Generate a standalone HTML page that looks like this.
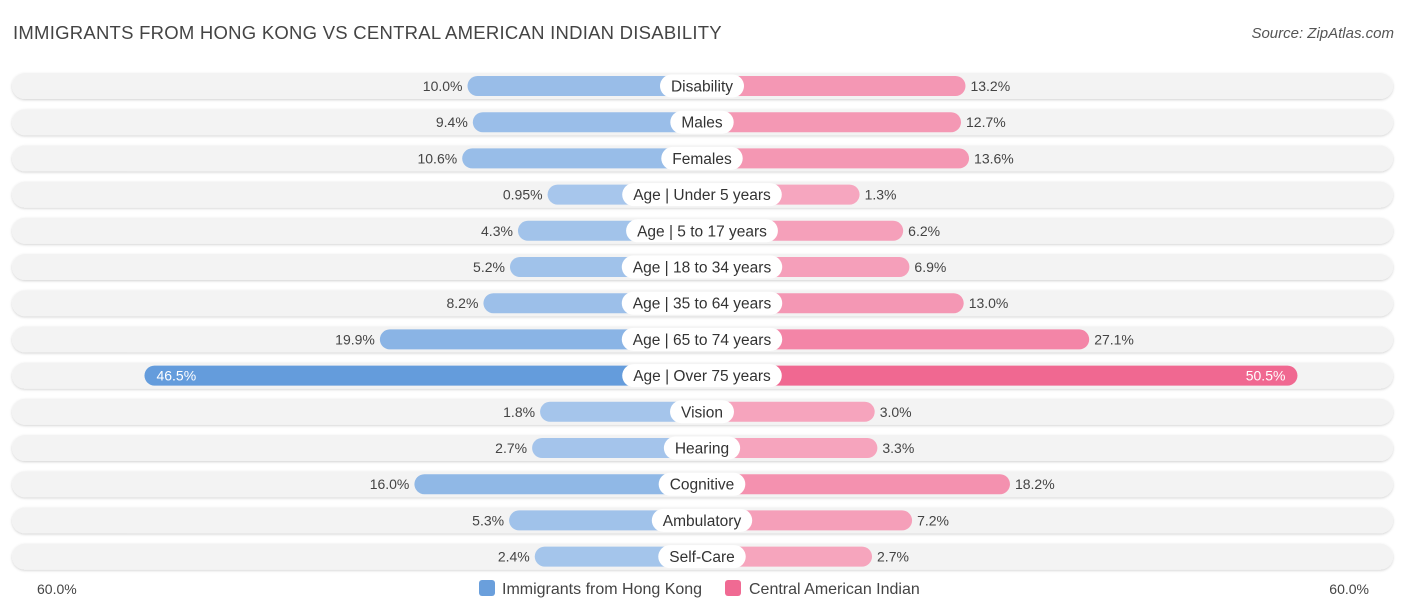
<!DOCTYPE html>
<html><head><meta charset="utf-8"><style>
body{margin:0;background:#fff;font-family:"Liberation Sans",sans-serif;}
#wrap{position:relative;width:1406px;height:612px;overflow:hidden;}
.title{position:absolute;left:13px;top:22px;font-size:18.5px;color:#444;letter-spacing:0.25px;}
.src{position:absolute;right:12px;top:25px;font-size:15px;color:#555;font-style:italic;}
</style></head><body>
<div id="wrap">
<div class="title">IMMIGRANTS FROM HONG KONG VS CENTRAL AMERICAN INDIAN DISABILITY</div>
<div class="src">Source: ZipAtlas.com</div>
<svg id="svg" width="1406" height="612" style="position:absolute;left:0;top:0"></svg>
</div>
<script>
const categories=["Disability","Males","Females","Age | Under 5 years","Age | 5 to 17 years","Age | 18 to 34 years","Age | 35 to 64 years","Age | 65 to 74 years","Age | Over 75 years","Vision","Hearing","Cognitive","Ambulatory","Self-Care"];
const hongKong=[10.0,9.4,10.6,0.95,4.3,5.2,8.2,19.9,46.5,1.8,2.7,16.0,5.3,2.4];
const centralAmerican=[13.2,12.7,13.6,1.3,6.2,6.9,13.0,27.1,50.5,3.0,3.3,18.2,7.2,2.7];
const hkLabels=["10.0%","9.4%","10.6%","0.95%","4.3%","5.2%","8.2%","19.9%","46.5%","1.8%","2.7%","16.0%","5.3%","2.4%"];
const caLabels=["13.2%","12.7%","13.6%","1.3%","6.2%","6.9%","13.0%","27.1%","50.5%","3.0%","3.3%","18.2%","7.2%","2.7%"];
const axisLabels=["60.0%","60.0%"];
const NS="http://www.w3.org/2000/svg";
const svg=document.getElementById('svg');
const cx=702,gap=146,kL=8.85,kR=8.9,y0=86,dy=36.2;
const xL=v=>cx-gap-v*kL, xR=v=>cx+gap+v*kR, yRow=i=>y0+i*dy;
function mk(t,a,p){const e=document.createElementNS(NS,t);for(const n in a)e.setAttribute(n,a[n]);(p||svg).appendChild(e);return e;}
function mix(a,b,t){return 'rgb('+a.map((c,i)=>Math.round(c+(b[i]-c)*t)).join(',')+')';}
const defs=mk('defs',{});
const f=mk('filter',{id:'sh',x:'-5%',y:'-50%',width:'110%',height:'200%'},defs);
mk('feDropShadow',{dx:0,dy:1,stdDeviation:1.2,'flood-color':'#000','flood-opacity':0.18},f);
categories.forEach((c,i)=>{
  const y=yRow(i);
  const g=mk('g',{});
  
  
  const bg=mk('rect',{x:12,y:y-13,width:1381,height:26,rx:13,fill:'#f3f3f3',filter:'url(#sh)'},g);
  
  const th=Math.min(1,hongKong[i]/45), tc=Math.min(1,centralAmerican[i]/50);
  const bl=mk('rect',{x:xL(hongKong[i]),y:y-10,width:cx-xL(hongKong[i]),height:20,rx:10,fill:mix([168,199,236],[100,156,220],th)},g);
  
  const br=mk('rect',{x:cx,y:y-10,width:xR(centralAmerican[i])-cx,height:20,rx:10,fill:mix([246,168,192],[240,104,145],tc)},g);
  
  const big=hongKong[i]>30;
  const t1=mk('text',{x:big?xL(hongKong[i])+12:xL(hongKong[i])-5,y:y+5,'font-size':14,fill:big?'#fff':'#444','text-anchor':big?'start':'end'},g);
  t1.textContent=hkLabels[i];
  const bigR=centralAmerican[i]>30;
  const t2=mk('text',{x:bigR?xR(centralAmerican[i])-12:xR(centralAmerican[i])+5,y:y+5,'font-size':14,fill:bigR?'#fff':'#444','text-anchor':bigR?'end':'start'},g);
  t2.textContent=caLabels[i];
  const lt=mk('text',{x:cx,y:y+5.5,'font-size':15.5,fill:'#333','text-anchor':'middle'},g);
  lt.textContent=c;
  const w=lt.getComputedTextLength()+22;
  const lp=mk('rect',{x:cx-w/2,y:y-11.5,width:w,height:23,rx:11.5,fill:'#fff'});
  g.insertBefore(lp,lt);
  
  
});
const a1=mk('text',{x:37,y:594,'font-size':14,fill:'#444'});a1.textContent=axisLabels[0];

const a2=mk('text',{x:1369,y:594,'font-size':14,fill:'#444','text-anchor':'end'});a2.textContent=axisLabels[1];

const lg=mk('g',{});
const s1=mk('rect',{x:479,y:580,width:16,height:16,rx:3,fill:'#6a9fdc'},lg);

const l1=mk('text',{x:502,y:594,'font-size':16,fill:'#444'},lg);l1.textContent='Immigrants from Hong Kong';

const s2=mk('rect',{x:725,y:580,width:16,height:16,rx:3,fill:'#f06a93'},lg);

const l2=mk('text',{x:749,y:594,'font-size':16,fill:'#444'},lg);l2.textContent='Central American Indian';

</script>
</body></html>
